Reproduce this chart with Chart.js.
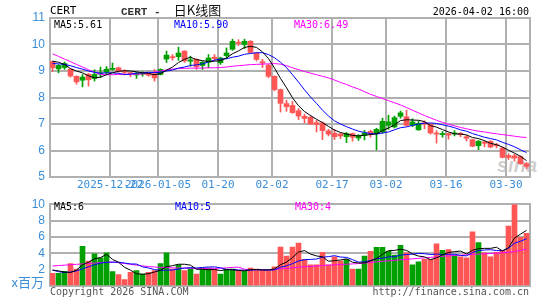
<!DOCTYPE html>
<html lang="zh-CN">
<head>
<meta charset="utf-8">
<title>CERT 日K线图</title>
<script src="https://cdn.jsdelivr.net/npm/chart.js@4.4.1/dist/chart.umd.min.js"></script>
<style>
  body{margin:0;background:#fff;}
  #wrap{position:relative;width:545px;height:300px;overflow:hidden;background:#fff;}
  #wrap canvas{position:absolute;left:0;}
  #price{top:0;}
  #vol{top:192px;}
  .t{position:absolute;white-space:nowrap;line-height:1;font-family:"DejaVu Sans Mono",monospace;font-size:10px;color:#000;}
  #logo{left:497px;top:155px;font-family:"Liberation Sans",sans-serif;font-size:20px;font-weight:bold;font-style:italic;color:rgba(160,160,160,0.5);}
  #title{left:121px;top:3px;font-family:"Liberation Mono",monospace;font-size:11px;font-weight:bold;color:#333;}
  #title span{font-family:"Noto Sans CJK SC",sans-serif;font-size:13px;font-weight:normal;color:#111;}
</style>
</head>
<body>
<div id="wrap">
  <div class="t" id="logo">sina</div>
  <canvas id="price" width="545" height="200"></canvas>
  <canvas id="vol" width="545" height="108"></canvas>

  <div class="t" style="left:50px;top:5px;font-size:11px;">CERT</div>
  <div class="t" id="title">CERT -&nbsp;&nbsp;<span>日K线图</span></div>
  <div class="t" style="right:16px;top:7px;">2026-04-02 16:00</div>

  <div class="t" style="left:54px;top:20px;">MA5:5.61</div>
  <div class="t" style="left:174px;top:20px;color:#0000ff;">MA10:5.90</div>
  <div class="t" style="left:294px;top:20px;color:#ff00ff;">MA30:6.49</div>

  <div class="t" style="left:54px;top:202px;">MA5:6</div>
  <div class="t" style="left:175px;top:202px;color:#0000ff;">MA10:5</div>
  <div class="t" style="left:295px;top:202px;color:#ff00ff;">MA30:4</div>

  <div class="t" style="right:501px;top:275px;font-size:13px;font-family:'Noto Sans CJK SC',sans-serif;color:#3a8ed8;">x百万</div>
  <div class="t" style="left:50px;top:287px;color:#555;">Copyright 2026 SINA.COM</div>
  <div class="t" style="right:16px;top:287px;color:#555;">http://finance.sina.com.cn</div>
</div>

<script>
// 日期（交易日）
const dates = [
  '2025-12-08','2025-12-09','2025-12-10','2025-12-11','2025-12-12','2025-12-15','2025-12-16','2025-12-17','2025-12-18','2025-12-19',
  '2025-12-22','2025-12-23','2025-12-24','2025-12-26','2025-12-29','2025-12-30','2025-12-31','2026-01-02','2026-01-05','2026-01-06',
  '2026-01-07','2026-01-08','2026-01-09','2026-01-12','2026-01-13','2026-01-14','2026-01-15','2026-01-16','2026-01-20','2026-01-21',
  '2026-01-22','2026-01-23','2026-01-26','2026-01-27','2026-01-28','2026-01-29','2026-01-30','2026-02-02','2026-02-03','2026-02-04',
  '2026-02-05','2026-02-06','2026-02-09','2026-02-10','2026-02-11','2026-02-12','2026-02-13','2026-02-17','2026-02-18','2026-02-19',
  '2026-02-20','2026-02-23','2026-02-24','2026-02-25','2026-02-26','2026-02-27','2026-03-02','2026-03-03','2026-03-04','2026-03-05',
  '2026-03-06','2026-03-09','2026-03-10','2026-03-11','2026-03-12','2026-03-13','2026-03-16','2026-03-17','2026-03-18','2026-03-19',
  '2026-03-20','2026-03-23','2026-03-24','2026-03-25','2026-03-26','2026-03-27','2026-03-30','2026-03-31','2026-04-01','2026-04-02'
];
const opens = [
  9.35,9.08,9.13,9.07,8.80,8.65,8.88,8.72,8.88,8.95,
  9.06,9.12,9.00,8.92,8.85,8.88,8.92,8.90,8.87,9.45,
  9.53,9.54,9.75,9.37,9.44,9.21,9.33,9.52,9.31,9.58,
  9.82,10.08,10.00,10.12,9.68,9.35,9.22,8.80,8.30,7.77,
  7.70,7.50,7.29,7.25,7.05,7.04,6.74,6.65,6.62,6.52,
  6.64,6.47,6.57,6.72,6.64,6.70,6.95,6.89,7.29,7.27,
  6.95,6.78,7.05,6.98,6.66,6.60,6.64,6.62,6.65,6.52,
  6.41,6.18,6.32,6.34,6.22,6.09,5.81,5.80,5.77,5.50
];
const highs = [
  9.38,9.24,9.34,9.08,8.82,8.87,8.90,9.05,9.15,9.17,
  9.30,9.15,9.05,8.95,8.95,8.97,8.95,9.06,9.08,9.75,
  9.62,9.90,9.77,9.56,9.46,9.36,9.62,9.62,9.52,9.87,
  10.20,10.18,10.20,10.15,9.70,9.44,9.25,8.82,8.32,7.90,
  7.85,7.58,7.37,7.30,7.14,7.08,6.80,6.80,6.66,6.68,
  6.66,6.60,6.76,6.77,6.84,7.22,7.33,7.30,7.49,7.52,
  7.20,7.10,7.12,7.02,6.75,6.72,6.66,6.75,6.68,6.57,
  6.43,6.38,6.35,6.38,6.27,6.12,5.88,5.86,5.80,5.55
];
const lows = [
  8.98,8.93,9.06,8.77,8.50,8.40,8.43,8.62,8.75,8.88,
  9.03,8.95,8.85,8.78,8.72,8.80,8.80,8.62,8.85,9.32,
  9.41,9.40,9.33,9.18,9.06,9.06,9.12,9.40,9.25,9.49,
  9.78,9.96,9.85,9.68,9.38,9.13,8.75,8.25,7.45,7.48,
  7.40,7.17,7.04,6.98,6.70,6.41,6.55,6.41,6.45,6.30,
  6.35,6.38,6.40,6.50,6.02,6.65,6.80,6.85,7.22,6.93,
  6.90,6.76,6.82,6.62,6.28,6.50,6.43,6.55,6.52,6.36,
  6.14,6.03,6.14,6.10,6.10,5.72,5.66,5.60,5.48,5.32
];
const closes = [
  9.12,9.21,9.28,8.81,8.59,8.77,8.67,8.87,8.93,9.07,
  9.10,8.98,8.95,8.90,8.92,8.92,8.84,8.74,9.06,9.60,
  9.50,9.68,9.38,9.42,9.16,9.33,9.49,9.47,9.49,9.68,
  10.12,10.05,10.12,9.70,9.44,9.30,8.80,8.30,7.78,7.65,
  7.43,7.30,7.21,7.00,6.98,6.75,6.62,6.52,6.55,6.64,
  6.50,6.56,6.66,6.62,6.80,7.10,7.08,7.24,7.42,6.95,
  7.08,7.02,7.00,6.66,6.62,6.64,6.58,6.66,6.60,6.46,
  6.16,6.35,6.27,6.13,6.18,5.74,5.74,5.72,5.50,5.40
];
const ma5 = [
  9.37,9.33,9.25,9.09,9.00,8.93,8.82,8.74,8.77,8.86,
  8.93,8.99,9.01,9.00,8.97,8.93,8.91,8.86,8.90,9.03,
  9.15,9.32,9.44,9.52,9.43,9.39,9.36,9.37,9.39,9.49,
  9.65,9.76,9.89,9.93,9.89,9.72,9.47,9.11,8.72,8.37,
  7.99,7.69,7.47,7.32,7.18,7.05,6.91,6.77,6.68,6.62,
  6.57,6.55,6.58,6.60,6.63,6.75,6.85,6.97,7.13,7.16,
  7.15,7.14,7.09,6.94,6.88,6.79,6.70,6.63,6.62,6.59,
  6.49,6.45,6.37,6.27,6.22,6.13,6.01,5.90,5.78,5.62
];
const ma10 = [
  9.28,9.27,9.25,9.20,9.13,9.07,9.00,8.95,8.92,8.93,
  8.93,8.91,8.87,8.88,8.92,8.93,8.95,8.94,8.95,9.00,
  9.04,9.11,9.15,9.21,9.23,9.27,9.34,9.41,9.45,9.46,
  9.52,9.56,9.63,9.66,9.69,9.69,9.62,9.50,9.33,9.13,
  8.86,8.58,8.29,8.02,7.78,7.52,7.30,7.12,7.00,6.90,
  6.81,6.73,6.68,6.64,6.62,6.66,6.70,6.78,6.86,6.89,
  6.95,7.00,7.03,7.04,7.02,6.97,6.92,6.86,6.78,6.73,
  6.64,6.57,6.50,6.45,6.40,6.31,6.23,6.14,6.03,5.92
];
const ma30 = [
  9.65,9.55,9.45,9.35,9.25,9.15,9.05,8.95,8.87,8.86,
  8.86,8.87,8.87,8.88,8.88,8.89,8.92,8.96,9.00,9.04,
  9.07,9.09,9.10,9.11,9.11,9.11,9.12,9.12,9.13,9.15,
  9.18,9.20,9.22,9.24,9.25,9.26,9.27,9.28,9.26,9.20,
  9.12,9.05,8.98,8.92,8.86,8.80,8.74,8.66,8.57,8.49,
  8.40,8.32,8.22,8.12,8.04,7.96,7.88,7.80,7.72,7.62,
  7.52,7.42,7.32,7.23,7.14,7.06,6.99,6.93,6.87,6.82,
  6.77,6.73,6.70,6.66,6.63,6.60,6.57,6.54,6.51,6.49
];
// 成交量（百万）
const volumes = [
  1.55,1.55,1.79,2.74,2.07,4.85,3.06,3.93,3.45,4.05,
  1.75,1.39,0.80,1.67,1.87,1.47,1.67,1.87,2.74,4.05,
  2.07,2.58,1.87,2.19,1.47,2.19,2.19,2.07,1.47,2.07,
  2.07,1.87,1.79,2.19,2.07,1.95,1.87,2.35,4.76,3.65,
  4.76,5.24,3.26,2.58,2.58,4.13,2.58,3.57,3.06,3.26,
  2.07,2.07,3.65,4.25,4.73,4.73,4.25,3.77,4.96,4.05,
  2.58,2.94,3.26,3.26,5.17,4.37,4.45,3.77,3.57,3.45,
  6.63,5.32,4.05,3.57,4.13,4.33,7.34,9.95,5.95,6.43
];
const volMa5 = [
  1.95,1.85,1.70,1.65,1.94,2.60,2.90,3.33,3.47,3.87,
  3.25,2.91,2.29,1.93,1.50,1.44,1.50,1.71,1.92,2.36,
  2.48,2.66,2.66,2.55,2.04,2.06,1.98,2.02,1.88,2.00,
  1.97,1.91,1.85,2.00,2.00,1.97,1.97,2.09,2.60,2.92,
  3.48,4.15,4.33,3.90,3.68,3.56,3.03,3.09,3.18,3.32,
  2.91,2.81,2.82,3.06,3.35,3.89,4.32,4.35,4.49,4.35,
  3.92,3.66,3.56,3.22,3.44,3.80,4.10,4.20,4.27,3.92,
  4.37,4.55,4.60,4.60,4.74,4.28,4.68,5.86,6.34,6.80
];
const volMa10 = [
  1.95,1.75,1.65,1.70,1.85,2.10,2.35,2.60,2.80,2.90,
  2.92,2.91,2.81,2.70,2.68,2.34,2.21,2.00,1.93,1.93,
  1.96,2.08,2.19,2.24,2.20,2.27,2.32,2.34,2.22,2.02,
  2.02,1.95,1.94,1.94,2.00,1.97,1.94,1.97,2.30,2.46,
  2.73,3.06,3.21,3.25,3.30,3.52,3.59,3.71,3.54,3.50,
  3.23,2.92,2.96,3.12,3.34,3.40,3.56,3.58,3.77,3.85,
  3.90,3.99,3.95,3.85,3.90,3.86,3.88,3.88,3.74,3.68,
  4.09,4.33,4.40,4.44,4.33,4.33,4.62,5.23,5.47,5.77
];
const volMa30 = [
  2.45,2.50,2.55,2.60,2.65,2.70,2.75,2.80,2.85,2.90,
  2.92,2.85,2.75,2.65,2.55,2.45,2.38,2.32,2.28,2.25,
  2.22,2.20,2.18,2.16,2.15,2.15,2.15,2.16,2.18,2.22,
  2.28,2.30,2.05,1.98,1.98,1.98,1.98,2.02,2.10,2.15,
  2.22,2.30,2.35,2.40,2.45,2.50,2.55,2.58,2.62,2.66,
  2.70,2.74,2.80,2.88,2.95,3.02,3.08,3.14,3.20,3.26,
  3.32,3.38,3.44,3.50,3.56,3.62,3.68,3.73,3.78,3.82,
  3.86,3.90,3.94,3.98,4.02,4.06,4.12,4.22,4.35,4.50
];
// 横轴刻度
const tickDates = ['2025-12-22','2026-01-05','2026-01-20','2026-02-02','2026-02-17','2026-03-02','2026-03-16','2026-03-30'];
const tickLabels = ['2025-12-22','2026-01-05','01-20','02-02','02-17','03-02','03-16','03-30'];
const volGridAt = [4,6,8];

const RED = '#ff5555', GREEN = '#00a000', GRID = '#b0b0b0', AXIS = '#3a8ed8';
const SHIFT = 5/12; // 蜡烛在网格线右侧
const upDown = closes.map((c,i) => c >= opens[i] ? GREEN : RED);
const pts = arr => arr.map((v,i) => ({x:i, y:v}));

const maLine = (arr, color) => ({
  type:'line', data:pts(arr), borderColor:color, borderWidth:1,
  pointRadius:0, tension:0, order:0
});

// 外框
const framePlugin = {
  id:'frame',
  beforeDatasetsDraw(chart){
    const a = chart.chartArea, ctx = chart.ctx;
    ctx.save();
    ctx.strokeStyle = GRID;
    ctx.lineWidth = 2;
    ctx.strokeRect(Math.round(a.left), Math.round(a.top), Math.round(a.right - a.left), Math.round(a.bottom - a.top));
    ctx.restore();
  }
};

new Chart(document.getElementById('price'), {
  data:{
    datasets:[
      maLine(ma5, '#000000'),
      maLine(ma10, '#0000ff'),
      maLine(ma30, '#ff00ff'),
      {type:'bar', data:opens.map((o,i) => ({x:i, y:[o, closes[i]]})), backgroundColor:upDown,
        barThickness:5, minBarLength:1, grouped:false, order:1},
      {type:'bar', data:lows.map((l,i) => ({x:i, y:[l, highs[i]]})), backgroundColor:upDown,
        barThickness:1, grouped:false, order:2}
    ]
  },
  options:{
    responsive:false, animation:false,
    layout:{padding:{left:0, right:15, top:18, bottom:0}},
    plugins:{legend:{display:false}, tooltip:{enabled:false}},
    scales:{
      x:{
        type:'linear', min:-SHIFT, max:dates.length - SHIFT, offset:false,
        afterBuildTicks: ax => {
          ax.ticks = [{value:-SHIFT}].concat(tickDates.map(d => ({value:dates.indexOf(d) - SHIFT})));
        },
        ticks:{autoSkip:false, maxRotation:0, padding:2, color:AXIS,
          font:{family:'DejaVu Sans Mono', size:11},
          callback:(v,i) => i === 0 ? '' : tickLabels[i-1]},
        grid:{color:GRID, lineWidth:2, drawTicks:false, offset:false},
        border:{display:false},
        afterFit: ax => { ax.height = 23; }
      },
      y:{
        min:5, max:11,
        ticks:{stepSize:1, autoSkip:false, color:AXIS, padding:5, font:{family:'Liberation Sans', size:12}},
        grid:{color:GRID, lineWidth:2, drawTicks:false},
        border:{display:false},
        afterFit: ax => { ax.width = 50; }
      }
    }
  },
  plugins:[framePlugin]
});

new Chart(document.getElementById('vol'), {
  data:{
    datasets:[
      maLine(volMa5, '#000000'),
      maLine(volMa10, '#0000ff'),
      maLine(volMa30, '#ff00ff'),
      {type:'bar', data:pts(volumes), backgroundColor:upDown, barThickness:5, grouped:false, order:1}
    ]
  },
  options:{
    responsive:false, animation:false,
    layout:{padding:{left:0, right:15, top:10, bottom:14}},
    plugins:{legend:{display:false}, tooltip:{enabled:false}},
    scales:{
      x:{type:'linear', min:-SHIFT, max:dates.length - SHIFT, offset:false, display:false},
      y:{
        min:0, max:10,
        ticks:{stepSize:2, autoSkip:false, color:AXIS, padding:5, font:{family:'Liberation Sans', size:12},
          callback:v => v === 0 ? '' : v},
        grid:{drawTicks:false, lineWidth:2,
          color:c => (c.tick && volGridAt.includes(c.tick.value)) ? GRID : 'rgba(0,0,0,0)'},
        border:{display:false},
        afterFit: ax => { ax.width = 50; }
      }
    }
  },
  plugins:[framePlugin]
});
</script>
</body>
</html>
